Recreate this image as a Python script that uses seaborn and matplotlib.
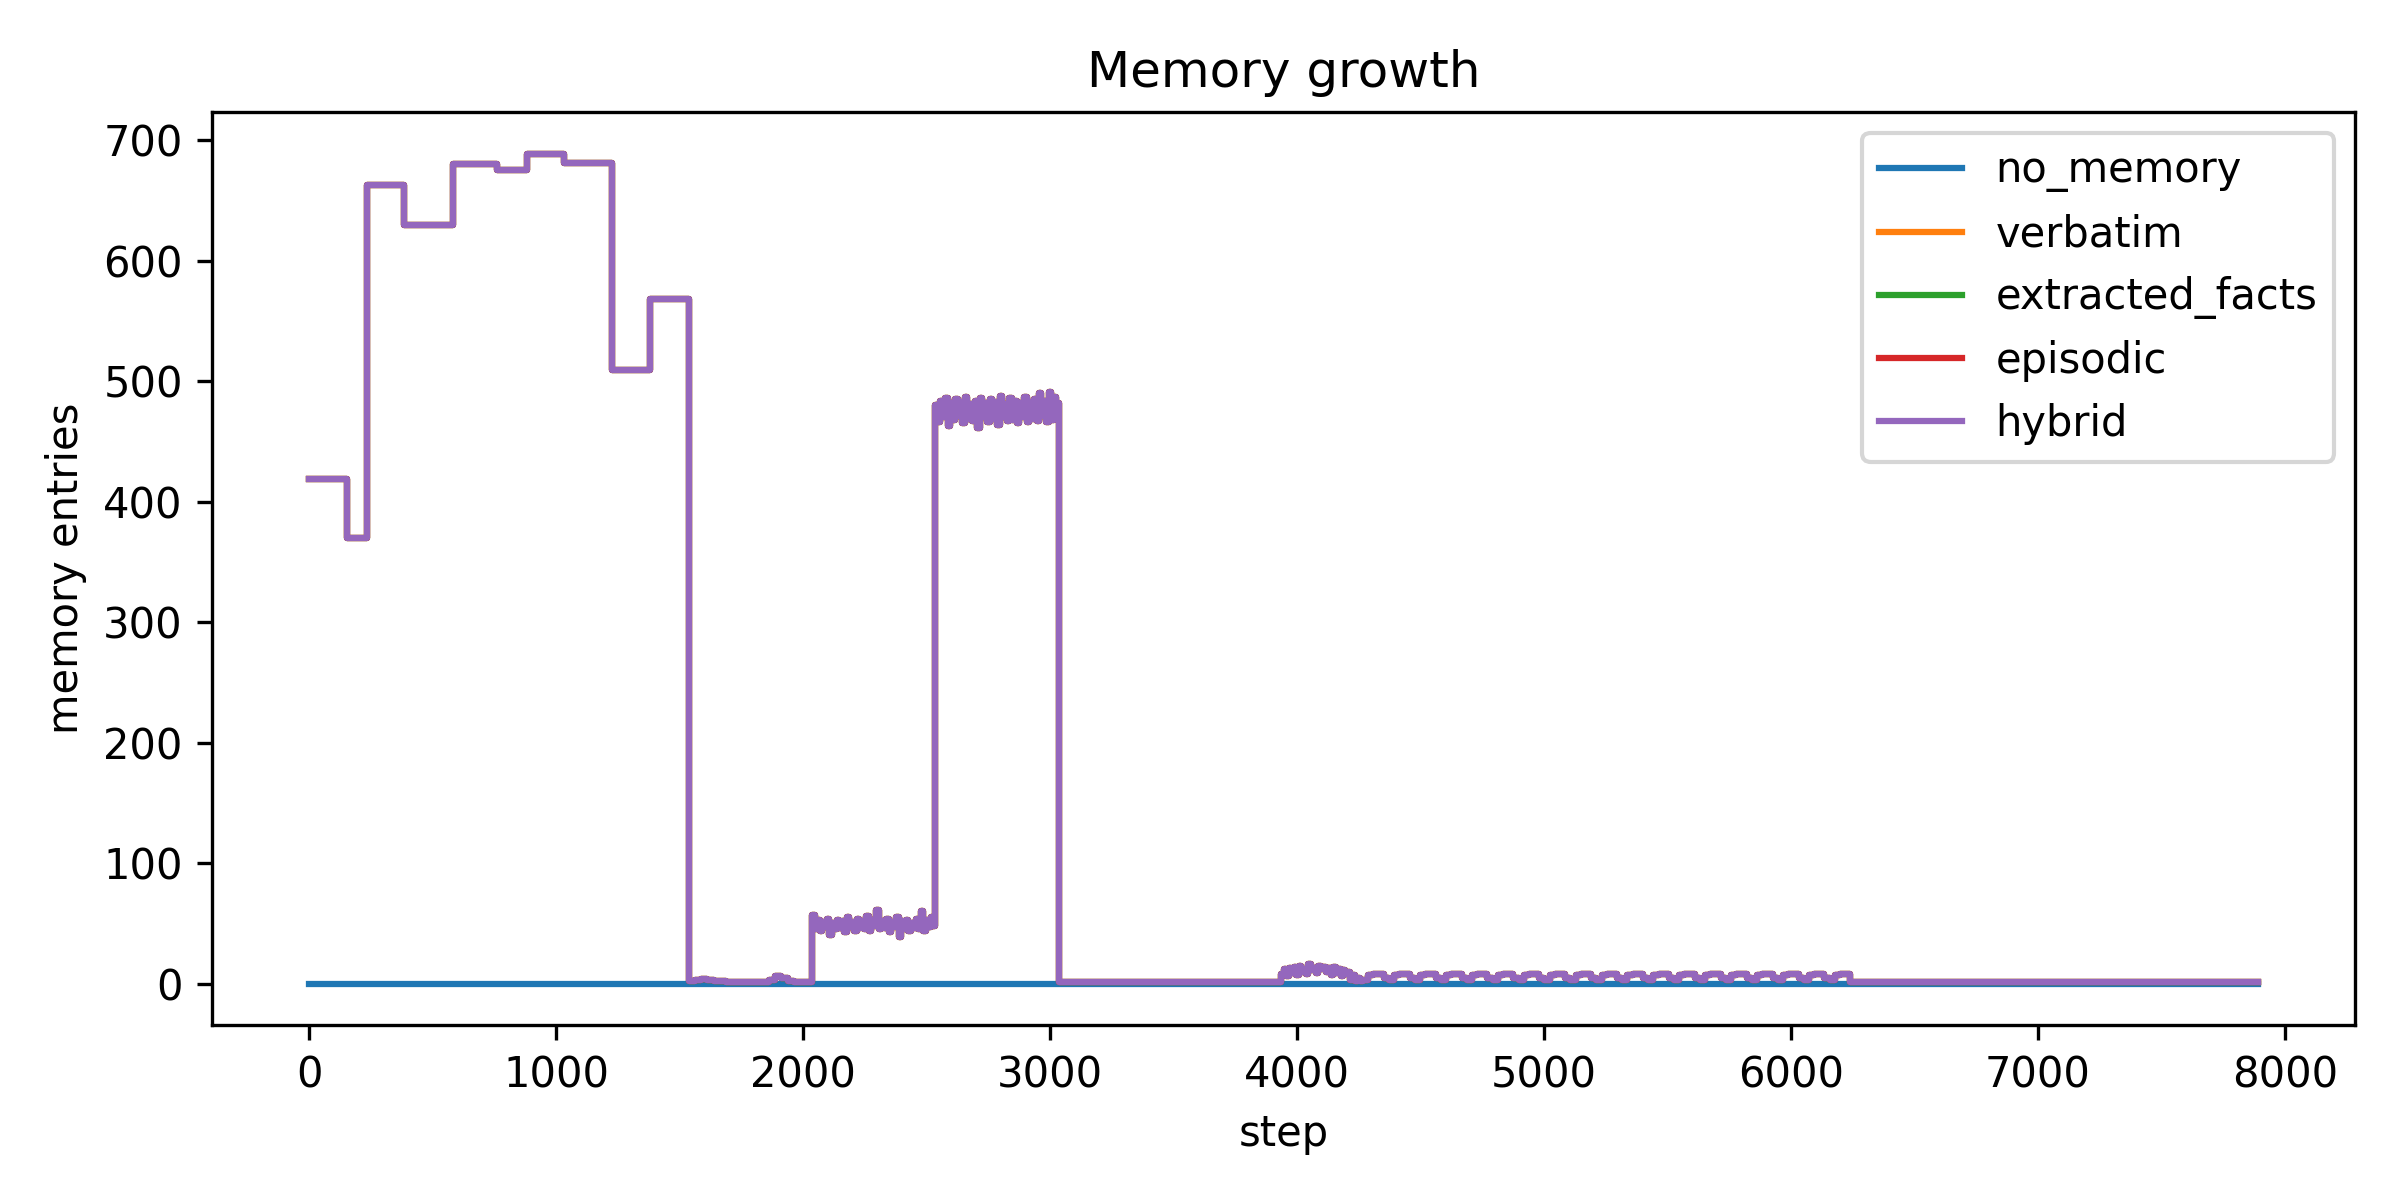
import numpy as np
import pandas as pd
import matplotlib
matplotlib.use("Agg")
import matplotlib.pyplot as plt
import seaborn as sns

# Стратегии памяти (порядок как в легенде)
strategies = ["no_memory", "verbatim", "extracted_facts", "episodic", "hybrid"]
last_step = 7890

# Плато в начале: шаг начала уровня и его значение
plateau_steps = [0, 152, 233, 383, 582, 760, 882, 1033, 1224, 1378]
plateau_vals = [419, 370, 663, 630, 680, 675, 689, 681, 509, 568]

# Тихий участок после сброса (шаг 25)
quiet_vals = [2, 3, 4, 3, 2, 2, 1, 1, 1, 1, 1, 1, 1, 3, 6, 5, 2, 1, 1, 1]

# Шумный блок около 50 (шаг 10)
band50_vals = [57, 45, 53, 44, 51, 47, 54, 40, 50, 45,
               53, 46, 52, 43, 55, 47, 51, 44, 54, 46,
               52, 45, 56, 44, 53, 48, 61, 45, 52, 46,
               54, 43, 51, 47, 55, 39, 52, 45, 53, 44,
               50, 46, 54, 45, 60, 44, 53, 47, 55, 48]

# Шумный блок около 475 (шаг 10)
band475_vals = [480, 466, 484, 470, 486, 463, 482, 468, 485, 471,
                483, 465, 487, 469, 481, 467, 484, 461, 486, 470,
                482, 466, 485, 469, 483, 464, 488, 470, 481, 467,
                486, 468, 484, 465, 482, 470, 487, 466, 483, 469,
                485, 467, 490, 471, 484, 466, 491, 468, 487, 482]

# Мелкий шум после 3936 (шаг 10)
small_vals = [8, 12, 6, 13, 9, 14, 7, 15, 10, 12,
              8, 16, 11, 13, 9, 15, 12, 14, 10, 13,
              7, 14, 9, 12, 6, 11, 8, 10, 3, 7, 2, 5, 2]

# Периодические колебания (шаг 21)
osc_vals = [3, 7, 8, 8, 5, 3, 7, 8, 8, 5, 3, 7, 8, 8, 5, 3, 7, 8, 8, 5,
            3, 7, 8, 8, 5, 3, 7, 8, 8, 5, 3, 7, 8, 8, 5, 3, 7, 8, 8, 5,
            3, 7, 8, 8, 5, 3, 7, 8, 8, 5, 3, 7, 8, 8, 5, 3, 7, 8, 8, 5,
            3, 7, 8, 8, 5, 3, 7, 8, 8, 5, 3, 7, 8, 8, 5, 3, 7, 8, 8, 5,
            3, 7, 8, 8, 5, 3, 7, 8, 8, 5, 3, 7, 8, 8, 1]


def block(start, spacing, vals):
    steps = np.arange(start, start + spacing * len(vals), spacing)
    return list(steps), list(vals)


pieces = [
    (plateau_steps, plateau_vals),
    block(1537, 25, quiet_vals),
    block(2036, 10, band50_vals),
    block(2535, 10, band475_vals),
    ([3035], [1]),
    block(3936, 10, small_vals),
    block(4267, 21, osc_vals),
    ([last_step], [1]),
]

memory_steps, memory_vals = [], []
for s, v in pieces:
    memory_steps += s
    memory_vals += v

# Собираем длинную таблицу
rows = [pd.DataFrame({"step": [0, last_step], "entries": [0, 0], "strategy": "no_memory"})]
for name in strategies[1:]:
    rows.append(pd.DataFrame({"step": memory_steps, "entries": memory_vals, "strategy": name}))
df = pd.concat(rows, ignore_index=True)

fig, ax = plt.subplots(figsize=(8, 4))
sns.lineplot(
    data=df, x="step", y="entries", hue="strategy", hue_order=strategies,
    palette="tab10", estimator=None, errorbar=None,
    drawstyle="steps-post", linewidth=1.5, ax=ax
)
sns.move_legend(ax, "upper right", title=None)

ax.set_title("Memory growth")
ax.set_xlabel("step")
ax.set_ylabel("memory entries")

fig.tight_layout()
fig.savefig("out.png", dpi=300)
